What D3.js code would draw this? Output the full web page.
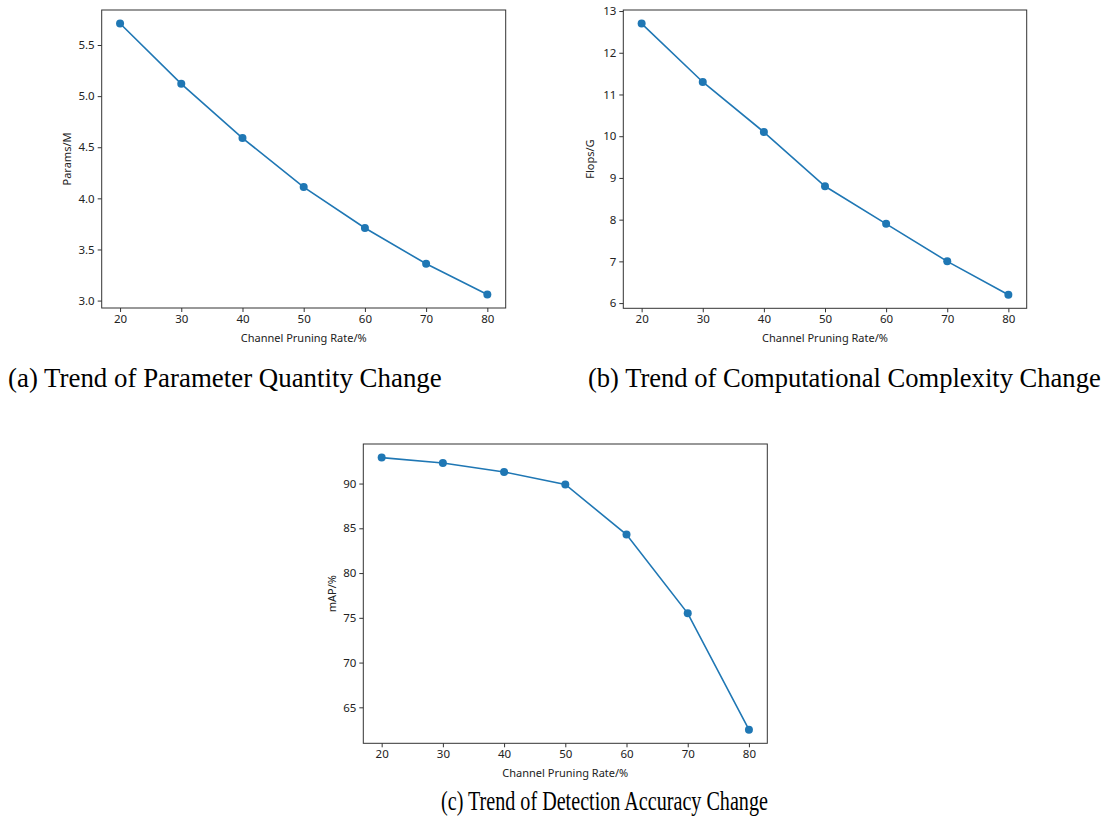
<!DOCTYPE html>
<html>
<head>
<meta charset="utf-8">
<script src="https://cdn.jsdelivr.net/npm/d3@7"></script>
<style>
  html, body { margin: 0; padding: 0; background: #fff; }
  svg { display: block; }
</style>
</head>
<body>
<svg id="chart" width="1115" height="826"></svg>
<script>
// ---------------- data ----------------
const pruningRates = [20, 30, 40, 50, 60, 70, 80];
const paramsM = [5.71, 5.12, 4.59, 4.11, 3.71, 3.36, 3.06];
const flopsG = [12.7, 11.3, 10.1, 8.8, 7.9, 7.0, 6.2];
const mapPct = [92.9, 92.3, 91.3, 89.9, 84.3, 75.5, 62.5];

const xTicks = [20, 30, 40, 50, 60, 70, 80];
const paramsTicks = [3.0, 3.5, 4.0, 4.5, 5.0, 5.5];
const flopsTicks = [6, 7, 8, 9, 10, 11, 12, 13];
const mapTicks = [65, 70, 75, 80, 85, 90];

const xLabel = "Channel Pruning Rate/%";
const yLabels = ["Params/M", "Flops/G", "mAP/%"];
const captions = [
  "(a) Trend of Parameter Quantity Change",
  "(b) Trend of Computational Complexity Change",
  "(c) Trend of Detection Accuracy Change"
];

// ---------------- layout ----------------
const svg = d3.select("#chart");
const color = "#1f77b4";
const tickFont = "'Noto Sans', 'Open Sans', sans-serif";

const panels = [
  { values: paramsM, ticks: paramsTicks, fmt: d3.format(".1f"), ylab: yLabels[0],
    box: { x0: 101.7, x1: 505.7, y0: 10, y1: 308 }, ylabX: 67,
    cap: captions[0], capX0: 8, capX1: 442, capY: 387 },
  { values: flopsG, ticks: flopsTicks, fmt: d3.format("d"), ylab: yLabels[1],
    box: { x0: 623.3, x1: 1026.7, y0: 10, y1: 308.3 }, ylabX: 590,
    cap: captions[1], capX0: 588, capX1: 1101, capY: 387 },
  { values: mapPct, ticks: mapTicks, fmt: d3.format("d"), ylab: yLabels[2],
    box: { x0: 363.3, x1: 767.3, y0: 444, y1: 743.3 }, ylabX: 332,
    cap: captions[2], capX0: 441, capX1: 768, capY: 810 }
];

function margin(ext, frac) {
  const r = ext[1] - ext[0];
  return [ext[0] - r * frac, ext[1] + r * frac];
}

panels.forEach(p => {
  const b = p.box;
  const x = d3.scaleLinear().domain(margin(d3.extent(pruningRates), 0.05)).range([b.x0, b.x1]);
  const y = d3.scaleLinear().domain(margin(d3.extent(p.values), 0.05)).range([b.y1, b.y0]);

  const g = svg.append("g");

  // axes
  const xAxis = d3.axisBottom(x).tickValues(xTicks).tickSize(4).tickPadding(3).tickFormat(d3.format("d"));
  const yAxis = d3.axisLeft(y).tickValues(p.ticks).tickSize(4).tickPadding(3).tickFormat(p.fmt);

  const gx = g.append("g").attr("transform", `translate(0,${b.y1})`).call(xAxis);
  const gy = g.append("g").attr("transform", `translate(${b.x0},0)`).call(yAxis);
  [gx, gy].forEach(a => {
    a.select(".domain").remove();
    a.selectAll(".tick line").attr("stroke", "#333").attr("stroke-width", 1);
    a.selectAll(".tick text").attr("fill", "#222").style("font-family", tickFont).style("font-size", "11.5px");
  });

  // frame
  g.append("rect")
    .attr("x", b.x0).attr("y", b.y0)
    .attr("width", b.x1 - b.x0).attr("height", b.y1 - b.y0)
    .attr("fill", "none").attr("stroke", "#333").attr("stroke-width", 1);

  // line
  const pts = pruningRates.map((r, i) => [r, p.values[i]]);
  g.append("path")
    .datum(pts)
    .attr("fill", "none")
    .attr("stroke", color)
    .attr("stroke-width", 1.6)
    .attr("d", d3.line().x(d => x(d[0])).y(d => y(d[1])));

  g.selectAll("circle.pt").data(pts).enter().append("circle")
    .attr("class", "pt")
    .attr("cx", d => x(d[0])).attr("cy", d => y(d[1]))
    .attr("r", 4).attr("fill", color);

  // axis labels
  g.append("text")
    .attr("x", (b.x0 + b.x1) / 2).attr("y", b.y1 + 34)
    .attr("text-anchor", "middle")
    .style("font-family", tickFont).style("font-size", "11px").attr("fill", "#222")
    .text(xLabel);

  g.append("text")
    .attr("transform", `translate(${p.ylabX + 4},${(b.y0 + b.y1) / 2}) rotate(-90)`)
    .attr("text-anchor", "middle")
    .style("font-family", tickFont).style("font-size", "11px").attr("fill", "#222")
    .text(p.ylab);

  // caption (horizontally scaled to fit the reference width)
  const cap = svg.append("text")
    .attr("x", 0).attr("y", 0)
    .style("font-family", "'Liberation Serif', 'Times New Roman', serif")
    .style("font-size", "28px").attr("fill", "#000")
    .text(p.cap);
  const natural = cap.node().getComputedTextLength();
  const sx = (p.capX1 - p.capX0) / natural;
  cap.attr("transform", `translate(${p.capX0},${p.capY}) scale(${sx},1)`);
});
</script>
</body>
</html>
